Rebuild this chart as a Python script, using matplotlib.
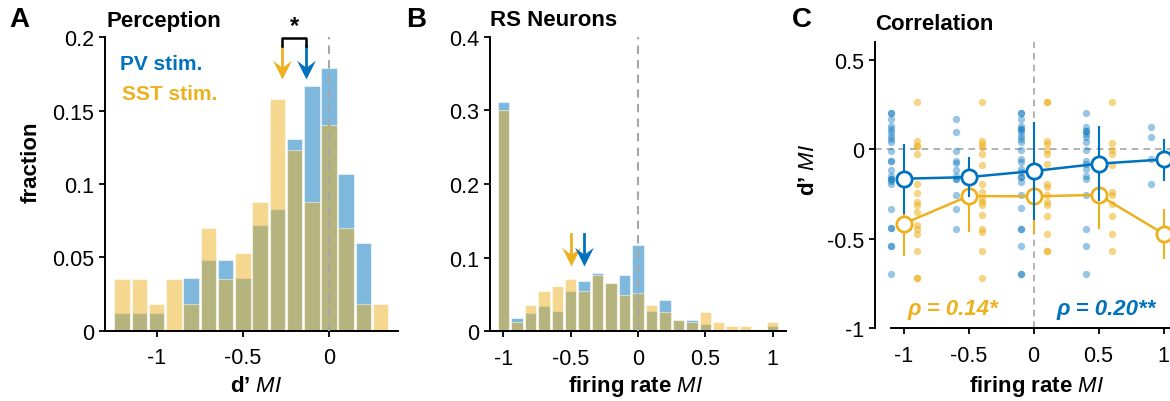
import numpy as np
import matplotlib
matplotlib.use('Agg')
import matplotlib.pyplot as plt
from matplotlib.path import Path
from matplotlib.ticker import FuncFormatter

plt.rcParams['font.family'] = ['Liberation Sans', 'DejaVu Sans']
plt.rcParams['mathtext.fontset'] = 'custom'
plt.rcParams['mathtext.it'] = 'Liberation Sans:italic'
plt.rcParams['mathtext.rm'] = 'Liberation Sans'
plt.rcParams['axes.unicode_minus'] = False

BLUE = '#0072BD'
YELLOW = '#EDB120'
GREY = '#a6a6a6'

# ---- panel A: d' modulation index histograms ----
dprime_bins = np.round(np.arange(-1.2, 0.31, 0.1), 2)
dprime_pv = [0.012, 0.012, 0.012, 0.0, 0.036, 0.048, 0.048, 0.036,
             0.072, 0.083, 0.131, 0.167, 0.179, 0.107, 0.060, 0.0]
dprime_sst = [0.035, 0.035, 0.018, 0.035, 0.018, 0.070, 0.035, 0.053,
              0.088, 0.158, 0.123, 0.088, 0.140, 0.070, 0.018, 0.018]
dprime_mean_pv = -0.135
dprime_mean_sst = -0.27

# ---- panel B: firing rate modulation index histograms ----
rate_bins = np.round(np.arange(-1.0, 1.01, 0.1), 2)
rate_pv = [0.311, 0.018, 0.025, 0.034, 0.028, 0.055, 0.068, 0.079, 0.065, 0.077,
           0.117, 0.028, 0.043, 0.016, 0.015, 0.010, 0.002, 0.002, 0.002, 0.002, 0.007]
rate_sst = [0.300, 0.013, 0.036, 0.055, 0.062, 0.071, 0.055, 0.077, 0.065, 0.049,
            0.052, 0.036, 0.026, 0.016, 0.013, 0.026, 0.013, 0.007, 0.007, 0.003, 0.013]
rate_mean_pv = -0.40
rate_mean_sst = -0.50

# ---- panel C: per-session d' MI against firing rate MI ----
pv_cols_x = [-1.1, -0.6, -0.1, 0.4, 0.9]
pv_cols_y = [
    [0.204, 0.204, 0.168, 0.134, 0.116, 0.097, 0.078, 0.060, 0.041, -0.011, -0.062, -0.062,
     -0.117, -0.149, -0.164, -0.164, -0.179, -0.192, -0.332, -0.440, -0.440, -0.541, -0.541, -0.699],
    [0.172, 0.097, -0.011, -0.062, -0.075, -0.117, -0.149, -0.164, -0.164, -0.254, -0.332, -0.444],
    [0.204, 0.204, 0.172, 0.134, 0.116, 0.116, 0.097, 0.078, 0.060, 0.041, -0.005, -0.056, -0.071,
     -0.108, -0.127, -0.155, -0.155, -0.183, -0.254, -0.328, -0.444, -0.444, -0.541, -0.699, -0.699],
    [0.204, 0.125, 0.106, 0.106, 0.088, 0.069, 0.041, -0.005, -0.062, -0.080, -0.108, -0.149,
     -0.164, -0.254, -0.444, -0.541, -0.699],
    [0.125, 0.069, -0.052, -0.192],
]
sst_cols_x = [-0.9, -0.4, 0.1, 0.6]
sst_cols_y = [
    [0.265, 0.045, 0.022, 0.022, -0.024, -0.192, -0.242, -0.294, -0.313, -0.350, -0.425, -0.444,
     -0.472, -0.569, -0.718, -0.718],
    [0.265, 0.050, 0.032, 0.013, -0.024, -0.089, -0.192, -0.239, -0.276, -0.294, -0.313, -0.369,
     -0.444, -0.462, -0.569, -0.718],
    [0.265, 0.265, 0.045, 0.032, -0.005, -0.024, -0.080, -0.192, -0.211, -0.257, -0.294, -0.313,
     -0.375, -0.472, -0.569, -0.569],
    [0.265, 0.037, -0.005, -0.024, -0.089, -0.239, -0.257, -0.304, -0.375, -0.472, -0.569],
]
bin_x = [-1.0, -0.5, 0.0, 0.5, 1.0]
pv_mean = [-0.164, -0.155, -0.121, -0.080, -0.056]
pv_lo = [-0.360, -0.267, -0.395, -0.291, -0.177]
pv_hi = [0.032, -0.043, 0.153, 0.131, 0.060]
sst_mean = [-0.416, -0.261, -0.263, -0.254, -0.472]
sst_lo = [-0.597, -0.463, -0.472, -0.444, -0.612]
sst_hi = [-0.174, -0.071, -0.065, -0.071, -0.336]
rho_sst = 'ρ = 0.14*'
rho_pv = 'ρ = 0.20**'

# arrow head with a swept-back base, tip at the data point
HEAD = Path([(0, 0), (-0.5, 1.0), (0, 0.62), (0.5, 1.0), (0, 0)],
            [Path.MOVETO, Path.LINETO, Path.LINETO, Path.LINETO, Path.CLOSEPOLY])


def down_arrow(ax, x, top, tip, color):
    ax.plot([x, x], [top, tip + (top - tip) * 0.4], color=color, lw=2, clip_on=False, zorder=5)
    ax.plot(x, tip, marker=HEAD, ms=27, color=color, mec=color, mew=0, clip_on=False, zorder=6)


def style_axes(ax):
    for side in ['top', 'right']:
        ax.spines[side].set_visible(False)
    for side in ['left', 'bottom']:
        ax.spines[side].set_linewidth(1.4)
    ax.tick_params(direction='out', length=4, width=1.3, labelsize=15.5)
    ax.tick_params(axis='x', pad=8)
    ax.tick_params(axis='y', pad=4)
    fmt = FuncFormatter(lambda v, p: '%g' % v)
    ax.xaxis.set_major_formatter(fmt)
    ax.yaxis.set_major_formatter(fmt)


fig = plt.figure(figsize=(11.7, 4.02), dpi=100)

# panel A
axA = fig.add_axes([0.0897, 0.1749, 0.2504, 0.7298])
axA.bar(dprime_bins, dprime_pv, width=0.09, color=BLUE, alpha=0.5, edgecolor='white', linewidth=0.8)
axA.bar(dprime_bins, dprime_sst, width=0.09, color=YELLOW, alpha=0.5, edgecolor='white', linewidth=0.8)
axA.plot([0, 0], [0, 0.2], ls=(0, (4, 3)), color=GREY, lw=1.5, zorder=4)
axA.set_xlim(-1.3, 0.4)
axA.set_ylim(0, 0.2)
axA.set_xticks([-1, -0.5, 0])
axA.set_yticks([0, 0.05, 0.1, 0.15, 0.2])
style_axes(axA)
down_arrow(axA, dprime_mean_sst, 0.194, 0.1715, YELLOW)
down_arrow(axA, dprime_mean_pv, 0.194, 0.1715, BLUE)
axA.plot([dprime_mean_sst, dprime_mean_sst, dprime_mean_pv, dprime_mean_pv],
         [0.194, 0.1995, 0.1995, 0.194], color='black', lw=1.8, clip_on=False, zorder=6)
axA.text((dprime_mean_sst + dprime_mean_pv) / 2, 0.2005, '*', ha='center', va='bottom',
         fontsize=17, fontweight='bold')
axA.text(-1.21, 0.182, 'PV stim.', color=BLUE, fontsize=15, fontweight='bold', va='center')
axA.text(-1.20, 0.162, 'SST stim.', color=YELLOW, fontsize=15, fontweight='bold', va='center')

# panel B
axB = fig.add_axes([0.4188, 0.1734, 0.2530, 0.7328])
axB.bar(rate_bins, rate_pv, width=0.085, color=BLUE, alpha=0.5, edgecolor='white', linewidth=0.8)
axB.bar(rate_bins, rate_sst, width=0.085, color=YELLOW, alpha=0.5, edgecolor='white', linewidth=0.8)
axB.plot([0, 0], [0, 0.4], ls=(0, (4, 3)), color=GREY, lw=1.5, zorder=4)
axB.set_xlim(-1.1, 1.1)
axB.set_ylim(0, 0.4)
axB.set_xticks([-1, -0.5, 0, 0.5, 1])
axB.set_yticks([0, 0.1, 0.2, 0.3, 0.4])
style_axes(axB)
down_arrow(axB, rate_mean_sst, 0.132, 0.089, YELLOW)
down_arrow(axB, rate_mean_pv, 0.132, 0.089, BLUE)

# panel C
axC = fig.add_axes([0.7479, 0.1816, 0.2521, 0.7107])
axC.axhline(0, ls=(0, (4, 3)), color=GREY, lw=1.2, zorder=1)
axC.plot([0, 0], [-1, 0.6], ls=(0, (4, 3)), color=GREY, lw=1.2, zorder=1)
for x, ys in zip(pv_cols_x, pv_cols_y):
    axC.scatter(np.full(len(ys), x), ys, s=28, color=BLUE, alpha=0.4, linewidths=0, zorder=2)
for x, ys in zip(sst_cols_x, sst_cols_y):
    axC.scatter(np.full(len(ys), x), ys, s=28, color=YELLOW, alpha=0.55, linewidths=0, zorder=2)
axC.vlines(bin_x, sst_lo, sst_hi, color=YELLOW, lw=1.5, zorder=3)
axC.plot(bin_x, sst_mean, color=YELLOW, lw=1.8, marker='o', ms=11, mfc='white', mec=YELLOW,
         mew=2, zorder=4)
axC.vlines(bin_x, pv_lo, pv_hi, color=BLUE, lw=1.5, zorder=5)
axC.plot(bin_x, pv_mean, color=BLUE, lw=1.8, marker='o', ms=11, mfc='white', mec=BLUE,
         mew=2, zorder=6)
axC.set_xlim(-1.22, 1.05)
axC.set_ylim(-1, 0.6)
axC.set_xticks([-1, -0.5, 0, 0.5, 1])
axC.set_yticks([-1, -0.5, 0, 0.5])
style_axes(axC)
axC.spines['bottom'].set_bounds(-1.1, 1.05)
axC.text(-0.62, -0.89, rho_sst, color=YELLOW, fontsize=16, fontweight='bold', style='italic',
         ha='center', va='center')
axC.text(0.56, -0.89, rho_pv, color=BLUE, fontsize=16, fontweight='bold', style='italic',
         ha='center', va='center')

# panel letters, titles and axis labels
for x, letter in [(0.008, 'A'), (0.347, 'B'), (0.677, 'C')]:
    fig.text(x, 0.95, letter, fontsize=20, fontweight='bold', va='center')
fig.text(0.0906, 0.946, 'Perception', fontsize=16, fontweight='bold', va='center')
fig.text(0.4188, 0.949, 'RS Neurons', fontsize=16, fontweight='bold', va='center')
fig.text(0.7479, 0.938, 'Correlation', fontsize=16, fontweight='bold', va='center')

fig.text(0.027, 0.597, 'fraction', fontsize=16, fontweight='bold', rotation=90,
         ha='center', va='center')
fig.text(0.691, 0.577, 'd’ $\\mathit{MI}$', fontsize=16, fontweight='bold', rotation=90,
         ha='center', va='center')
fig.text(0.219, 0.038, 'd’ $\\mathit{MI}$', fontsize=16, fontweight='bold', ha='center', va='center')
fig.text(0.543, 0.038, 'firing rate $\\mathit{MI}$', fontsize=16, fontweight='bold',
         ha='center', va='center')
fig.text(0.886, 0.038, 'firing rate $\\mathit{MI}$', fontsize=16, fontweight='bold',
         ha='center', va='center')

fig.savefig('out.png', dpi=100)
